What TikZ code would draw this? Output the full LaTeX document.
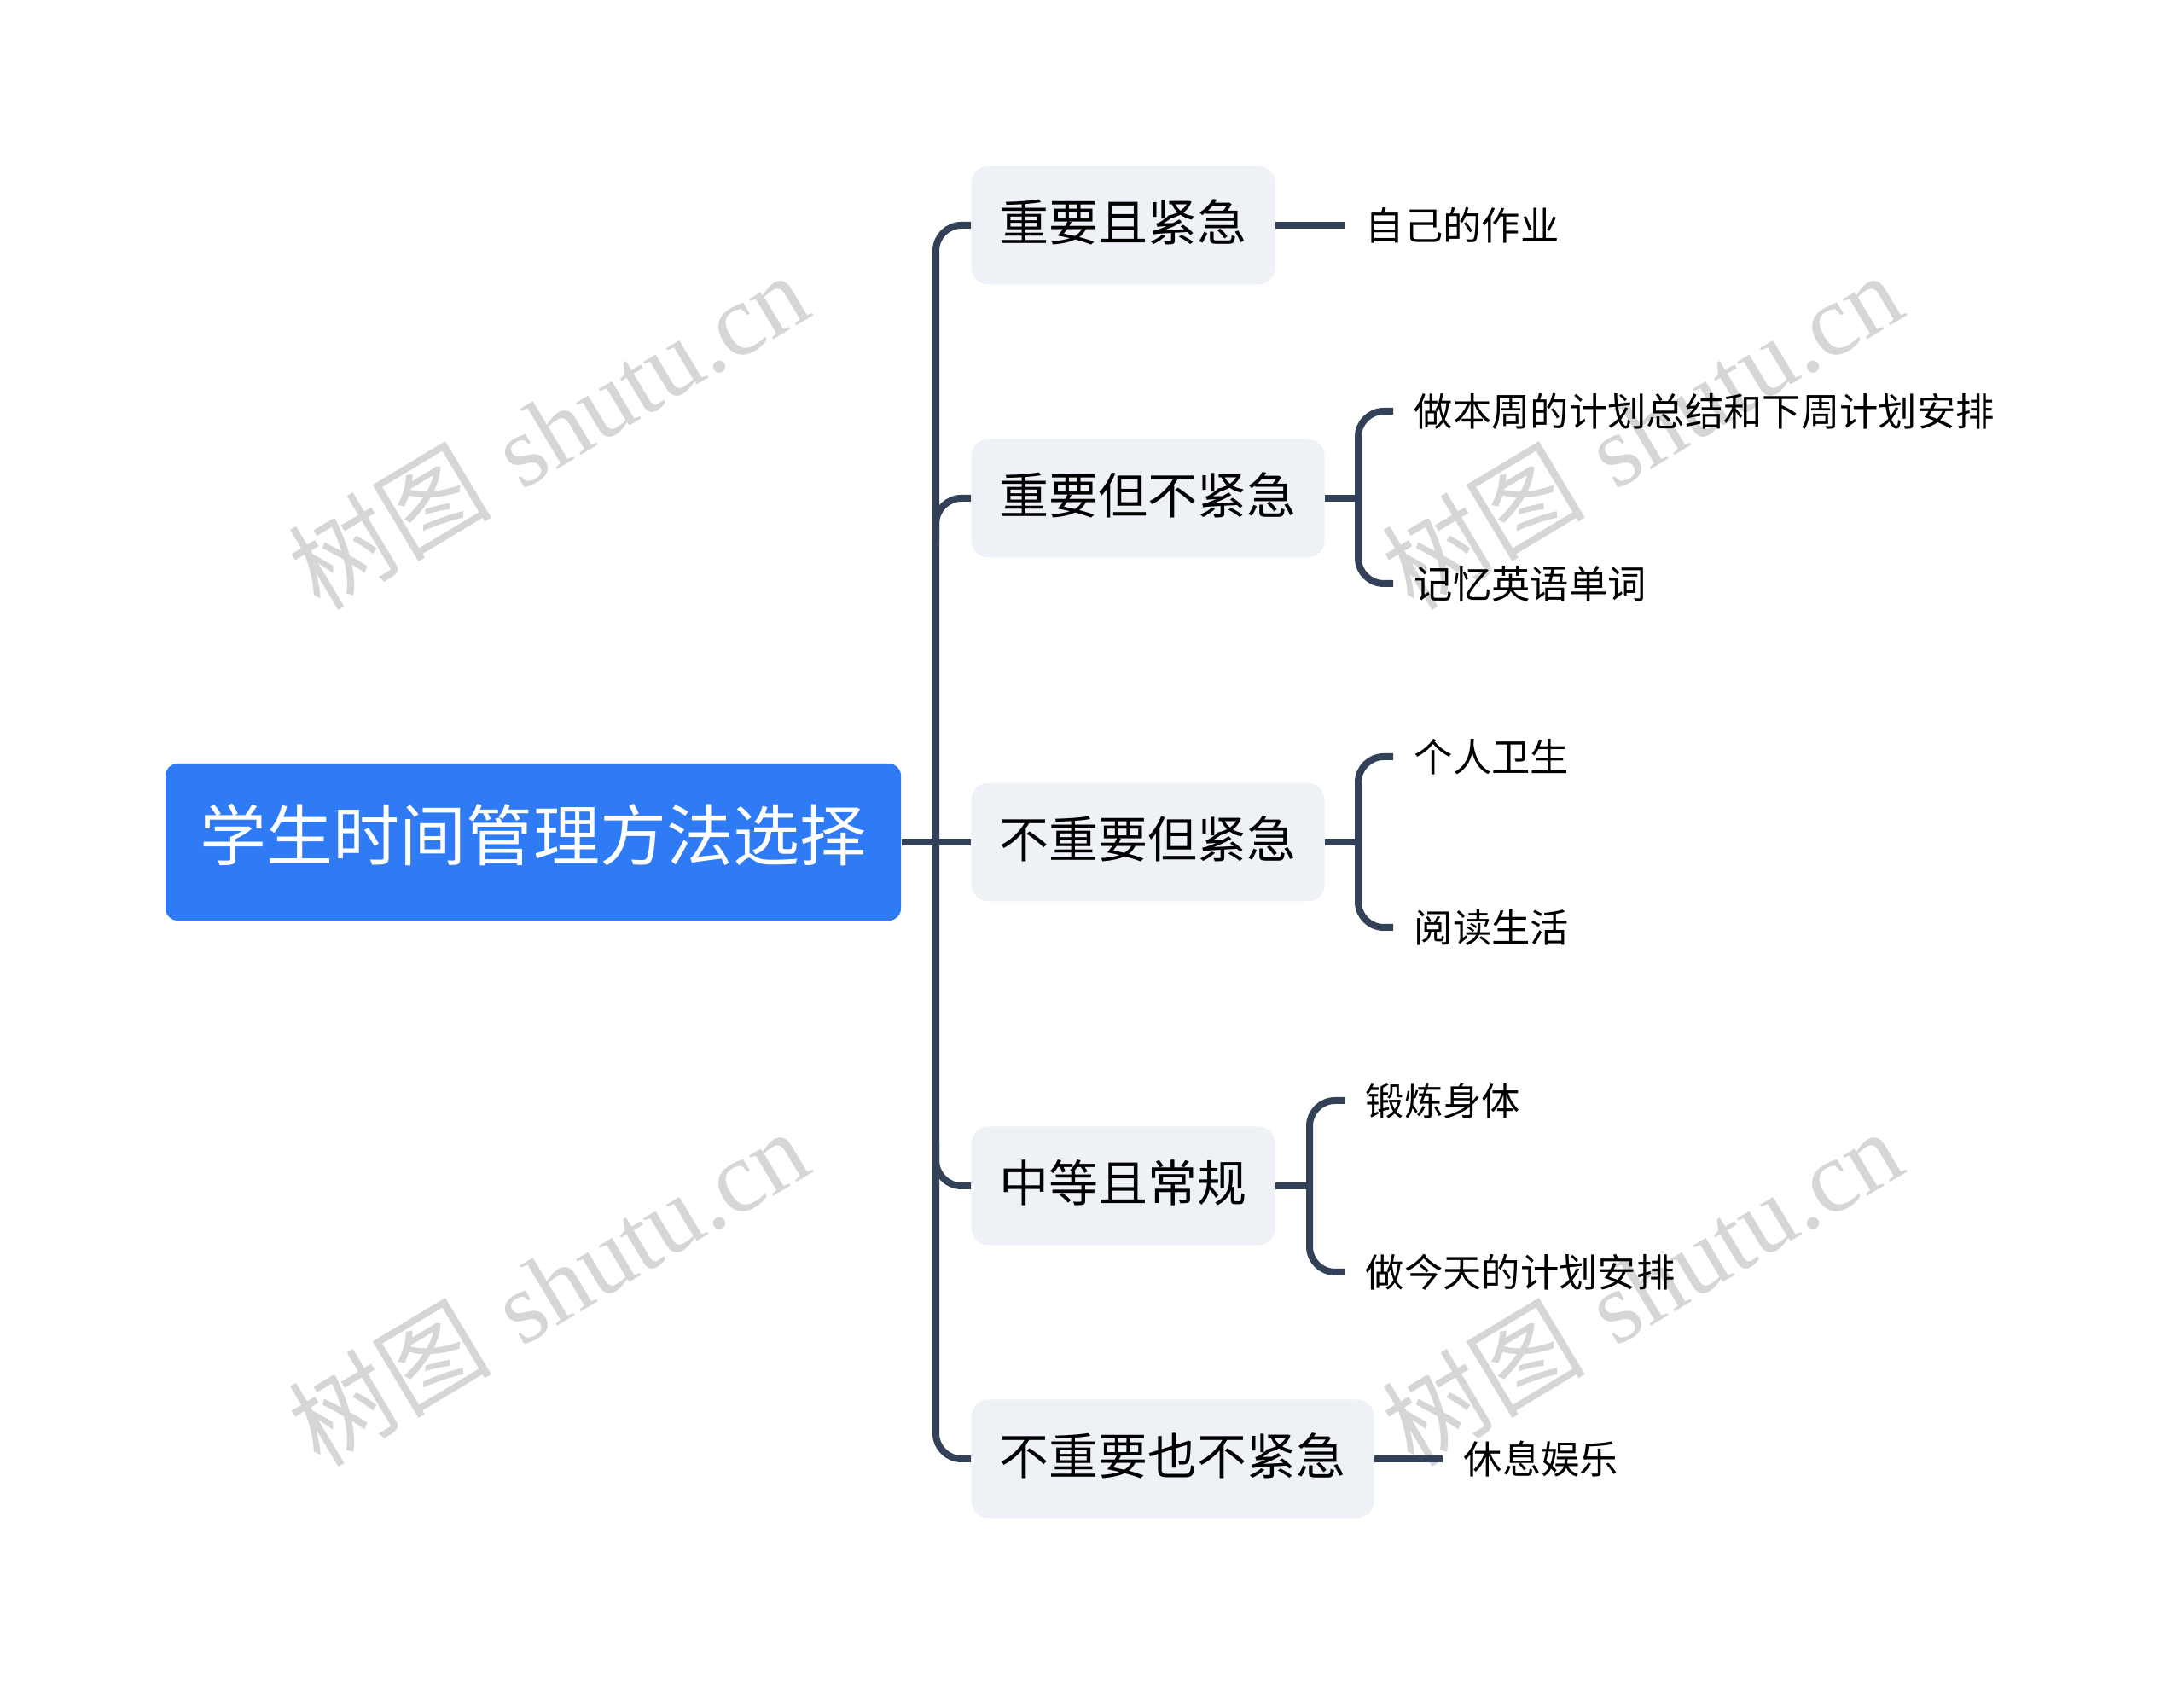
\documentclass[tikz,border=0pt]{standalone}
\usepackage{fontspec}
\newfontfamily\cjk{Noto Sans CJK SC}
\newfontfamily\wmserif{Liberation Serif}
\definecolor{rootblue}{RGB}{47,123,246}
\definecolor{boxgray}{RGB}{238,241,245}
\definecolor{linkslate}{RGB}{50,65,87}
\definecolor{wmgray}{RGB}{214,214,214}

\begin{document}
\begin{tikzpicture}[
  root/.style={fill=rootblue, rounded corners=0.14cm, text=white, inner sep=0pt,
    minimum width=8.62cm, minimum height=1.84cm,
    font=\cjk\fontsize{22.2}{26}\selectfont, text height=1.2em, text depth=0em},
  topic/.style={fill=boxgray, rounded corners=0.2cm, anchor=west, inner xsep=0.33cm,
    inner ysep=0pt, minimum height=1.39cm,
    font=\cjk\fontsize{16.5}{20}\selectfont, text height=1.08em, text depth=0em},
  leaf/.style={anchor=west, inner xsep=0.24cm, inner ysep=0pt,
    font=\cjk\fontsize{12.9}{16}\selectfont, text height=1em, text depth=0em},
  link/.style={draw=linkslate, line width=0.08cm},
  wmark/.style={text=wmgray, rotate=31, font=\fontsize{34}{38}\selectfont}
]
\useasboundingbox (0,0) rectangle (25.6,19.74);

% watermark
\foreach \wx/\wy [count=\i] in {6.42/14.70, 19.24/14.70, 6.42/4.66, 19.24/4.66}
  \node[wmark] (wm\i) at (\wx,\wy) {{\cjk 树图} {\wmserif shutu.cn}};

% root and first level
\node[root] (root) at (6.25,9.87) {学生时间管理方法选择};
\node[topic] (b1) at (11.38,17.10) {重要且紧急};
\node[topic] (b2) at (11.38,13.90) {重要但不紧急};
\node[topic] (b3) at (11.38,9.87) {不重要但紧急};
\node[topic] (b4) at (11.38,5.84) {中等且常规};
\node[topic] (b5) at (11.38,2.64) {不重要也不紧急};
\coordinate (trunk) at (10.97,9.87);

% leaves
\node[leaf] (l1) at (15.76,17.10) {自己的作业};
\node[leaf] (l2a) at (16.33,14.92) {做本周的计划总结和下周计划安排};
\node[leaf] (l2b) at (16.33,12.90) {记忆英语单词};
\node[leaf] (l3a) at (16.33,10.87) {个人卫生};
\node[leaf] (l3b) at (16.33,8.87) {阅读生活};
\node[leaf] (l4a) at (15.76,6.84) {锻炼身体};
\node[leaf] (l4b) at (15.76,4.83) {做今天的计划安排};
\node[leaf] (l5) at (16.91,2.64) {休息娱乐};
\coordinate (k2) at (15.92,13.90);
\coordinate (k3) at (15.92,9.87);
\coordinate (k4) at (15.35,5.84);

% trunk
\draw[link] (root.east) -- (b3.west);
\draw[link, rounded corners=0.3cm] (b1.west) -| (trunk) |- (b5.west);
\draw[link, rounded corners=0.3cm] (b2.west) -| ++(-0.41,-0.5);
\draw[link, rounded corners=0.3cm] (b4.west) -| ++(-0.41,0.5);

% second level
\draw[link] (b1.east) -- (l1.west);
\draw[link] (b2.east) -- (k2);
\draw[link, rounded corners=0.3cm] (l2a.west) -| (k2) |- (l2b.west);
\draw[link] (b3.east) -- (k3);
\draw[link, rounded corners=0.3cm] (l3a.west) -| (k3) |- (l3b.west);
\draw[link] (b4.east) -- (k4);
\draw[link, rounded corners=0.3cm] (l4a.west) -| (k4) |- (l4b.west);
\draw[link] (b5.east) -- (l5.west);
\end{tikzpicture}
\end{document}
